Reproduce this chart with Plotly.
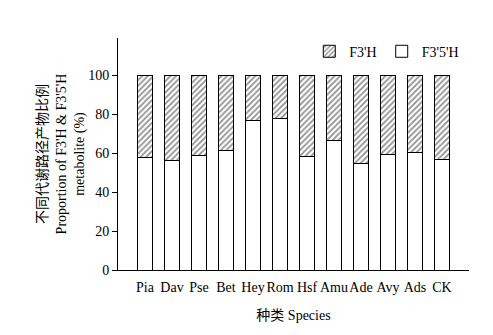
import plotly.graph_objects as go

# Species and the share of each metabolic route (%)
species = ["Pia", "Dav", "Pse", "Bet", "Hey", "Rom", "Hsf", "Amu", "Ade", "Avy", "Ads", "CK"]
f35h = [57.5, 56.0, 58.5, 61.1, 76.6, 77.5, 58.0, 66.2, 54.5, 59.1, 60.1, 56.5]
f3h = [round(100 - v, 1) for v in f35h]
y_ticks = [0, 20, 40, 60, 80, 100]

FONT = "Liberation Serif, Times New Roman, Noto Sans CJK SC, serif"

fig = go.Figure()
fig.add_trace(go.Bar(
    x=species, y=f35h, name="F3'5'H",
    marker=dict(color="white", line=dict(color="black", width=1)),
))
fig.add_trace(go.Bar(
    x=species, y=f3h, name="F3'H",
    marker=dict(
        color="white",
        line=dict(color="black", width=1),
        pattern=dict(shape="/", fgcolor="#222222", bgcolor="white", size=4, solidity=0.45),
    ),
))

fig.update_layout(
    barmode="stack",
    bargap=0.41,
    width=493, height=335,
    margin=dict(l=118, r=24, t=38, b=65, autoexpand=False),
    paper_bgcolor="white", plot_bgcolor="white",
    font=dict(family=FONT, size=14, color="black"),
    showlegend=True,
    legend=dict(
        orientation="h", x=0.545, y=1.01, xanchor="left", yanchor="top",
        traceorder="reversed",
        font=dict(size=14), bgcolor="rgba(0,0,0,0)",
        itemwidth=30, tracegroupgap=0,
    ),
    xaxis=dict(
        range=[-1, 12],
        automargin=False,
        showline=True, linecolor="black", linewidth=1,
        ticks="", showgrid=False, zeroline=False,
        tickangle=0, ticklabelstandoff=4,
        tickfont=dict(size=14),
        title=dict(text="种类 Species", font=dict(size=14), standoff=16),
    ),
    yaxis=dict(
        range=[0, 119],
        automargin=False,
        tickvals=y_ticks,
        showline=True, linecolor="black", linewidth=1,
        ticks="outside", ticklen=5, tickcolor="black",
        showgrid=False, zeroline=False,
        tickfont=dict(size=14),
        title=dict(
            text="不同代谢路径产物比例<br>Proportion of F3'H & F3'5'H<br>metabolite (%)",
            font=dict(size=14), standoff=0,
        ),
    ),
)

fig.write_html("out.html")
